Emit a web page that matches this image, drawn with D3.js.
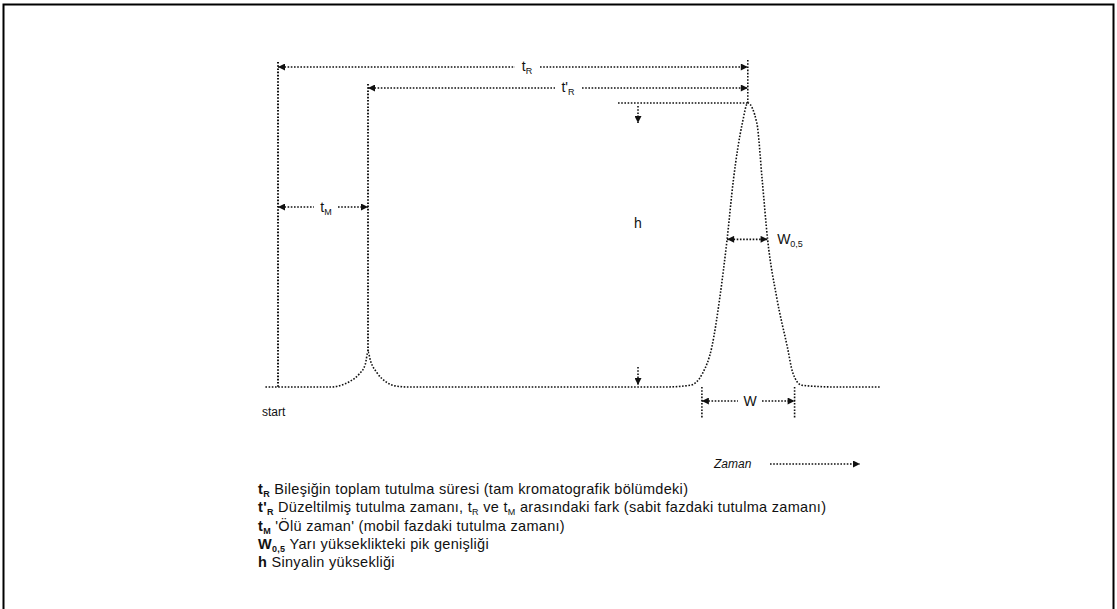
<!DOCTYPE html>
<html>
<head>
<meta charset="utf-8">
<script src="https://cdn.jsdelivr.net/npm/d3@7"></script>
<style>
  body { margin: 0; background: #fff; }
  text { font-family: "Liberation Sans", Arial, sans-serif; fill: #111; }
</style>
</head>
<body>
<div id="chart"></div>
<script>
var width = 1117, height = 609;

// retention times (minutes), start of injection = 0
var tStart = 0, tM = 1.0, tR = 5.22;
// peak widths
var wHalf = [4.99, 5.44];   // width at half height
var wBase = [4.71, 5.74];   // width at the base
var halfSignal = 52;

// chromatogram trace (time, signal)
var traceTime = [-0.14, 0.3, 0.6, 0.7, 0.8, 0.9, 0.97, 1.0, 1.03, 1.1, 1.2, 1.3, 1.45, 2.5, 3.5, 4.3, 4.58, 4.72, 4.82, 4.91, 4.99, 5.06, 5.16, 5.22, 5.32, 5.38, 5.44, 5.54, 5.66, 5.72, 5.82, 6.2, 6.69];
var traceSignal = [0, 0, 0, 0.6, 2, 4.5, 8, 12.3, 9, 5, 1.8, 0.4, 0, 0, 0, 0, 0.6, 5, 14, 31.7, 52, 72.9, 93, 100, 93, 72.9, 52, 31.7, 14, 5, 0.6, 0, 0];

// legend rows: [text, sub, text, sub, ...] pieces, even = normal, odd = subscript
var legendSymbols = ["t", "t'", "t", "W", "h"];
var legendSubs = ["R", "R", "M", "0,5", ""];
var legendTexts = [
  ["Bileşiğin toplam tutulma süresi (tam kromatografik bölümdeki)"],
  ["Düzeltilmiş tutulma zamanı, t", "R", " ve t", "M", " arasındaki fark (sabit fazdaki tutulma zamanı)"],
  ["'Ölü zaman' (mobil fazdaki tutulma zamanı)"],
  ["Yarı yükseklikteki pik genişliği"],
  ["Sinyalin yüksekliği"]
];

var x = d3.scaleLinear().domain([0, 1]).range([278, 368]);
var y = d3.scaleLinear().domain([0, 100]).range([387, 103]);

var svg = d3.select("#chart").append("svg")
    .attr("width", width).attr("height", height);

// frame
svg.append("rect")
   .attr("x", 3.5).attr("y", 4.5)
   .attr("width", 1110).attr("height", 620)
   .attr("fill", "none").attr("stroke", "#000").attr("stroke-width", 2);

var defs = svg.append("defs");
defs.append("marker").attr("id", "arr")
    .attr("viewBox", "0 0 10 10").attr("refX", 10).attr("refY", 5)
    .attr("markerWidth", 10).attr("markerHeight", 7).attr("orient", "auto-start-reverse")
    .attr("markerUnits", "userSpaceOnUse")
    .append("path").attr("d", "M0,0 L10,5 L0,10 Z").attr("fill", "#111");

var dotted = "1.6,1.6";
function dline(x1, y1, x2, y2, arrows, w) {
  var l = svg.append("line")
     .attr("x1", x1).attr("y1", y1).attr("x2", x2).attr("y2", y2)
     .attr("stroke", "#111").attr("stroke-width", w || 1.6)
     .attr("stroke-dasharray", dotted);
  if (arrows === "both" || arrows === "start") l.attr("marker-start", "url(#arr)");
  if (arrows === "both" || arrows === "end") l.attr("marker-end", "url(#arr)");
  return l;
}

// trace
var pts = traceTime.map(function(t, i) { return [t, traceSignal[i]]; });
var line = d3.line()
  .x(function(d) { return x(d[0]); })
  .y(function(d) { return y(d[1]); })
  .curve(d3.curveMonotoneX);
svg.append("path").datum(pts)
   .attr("d", line)
   .attr("fill", "none").attr("stroke", "#111").attr("stroke-width", 1.6)
   .attr("stroke-dasharray", dotted);

// vertical reference lines
dline(x(tStart), 62, x(tStart), y(0), null, 2);
dline(x(tM), 84, x(tM), y(12.3), null, 1.9);
dline(x(tR), 60, x(tR), y(100));
dline(x(wBase[0]), y(0), x(wBase[0]), 418);
dline(x(wBase[1]), y(0), x(wBase[1]), 418);

function dimLabel(xc, yc, sym, sub) {
  var t = svg.append("text").attr("x", xc).attr("y", yc)
     .attr("text-anchor", "middle").attr("font-size", 14)
     .attr("font-family", "DejaVu Serif, serif");
  t.append("tspan").text(sym);
  if (sub) t.append("tspan").attr("font-size", 9).attr("dy", 3).text(sub);
}
// t_R
dline(x(tStart), 67, 515, 67, "start");
dline(540, 67, x(tR), 67, "end");
dimLabel(527, 71, "t", "R");
// t'_R
dline(x(tM), 88, 555, 88, "start");
dline(582, 88, x(tR), 88, "end");
dimLabel(568, 92, "t'", "R");

// t_M
dline(x(tStart), 207, 314, 207, "start");
dline(338, 207, x(tM), 207, "end");
dimLabel(326, 212, "t", "M");

// h
dline(618, y(100), x(tR), y(100));
dline(x(4.0), y(100) + 3, x(4.0), y(100) + 20, "end");
dline(x(4.0), y(0) - 20, x(4.0), y(0) - 2, "end");
dimLabel(x(4.0), 228, "h", "");

// W 0.5
dline(x(wHalf[0]), y(halfSignal), x(wHalf[1]), y(halfSignal), "both", 1.8);
dimLabel(790, 244, "W", "0,5");

// W
dline(x(wBase[0]), 401, 738, 401, "start");
dline(762, 401, x(wBase[1]), 401, "end");
dimLabel(750, 406, "W", "");

// start & time
svg.append("text").attr("x", 262).attr("y", 416).attr("font-size", 12).text("start");
svg.append("text").attr("x", 714).attr("y", 468).attr("font-size", 12)
   .attr("font-style", "italic").text("Zaman");
dline(770, 464, 860, 464, "end");

// legend
var ly = d3.scaleLinear().domain([0, 4]).range([494, 567]);
legendTexts.forEach(function(parts, i) {
  var t = svg.append("text").attr("x", 258).attr("y", ly(i))
     .attr("font-size", 14.5).attr("letter-spacing", 0.3);
  t.append("tspan").attr("font-weight", "bold").text(legendSymbols[i]);
  var shifted = false;
  if (legendSubs[i]) {
    t.append("tspan").attr("font-size", 9).attr("dy", 3).attr("font-weight", "bold").text(legendSubs[i]);
    shifted = true;
  }
  parts.forEach(function(p, j) {
    var sp = t.append("tspan");
    if (j % 2 === 0) {
      sp.attr("dy", shifted ? -3 : 0).text((j === 0 ? " " : "") + p);
      shifted = false;
    } else {
      sp.attr("font-size", 9).attr("dy", 3).text(p);
      shifted = true;
    }
  });
});
</script>
</body>
</html>
